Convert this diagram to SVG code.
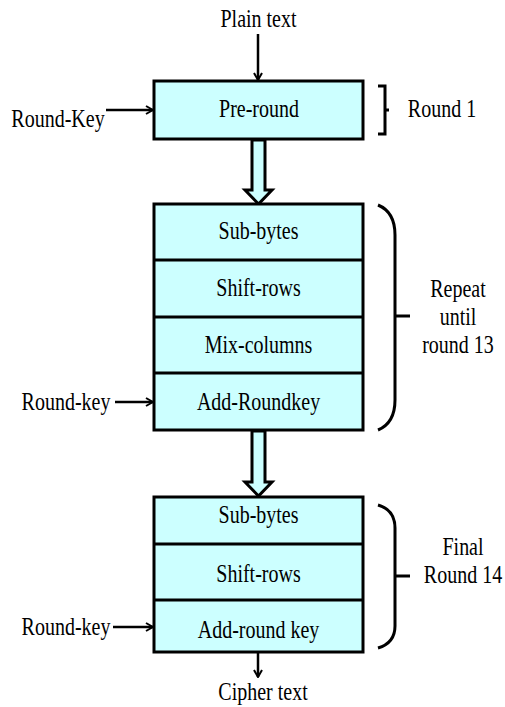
<svg xmlns="http://www.w3.org/2000/svg" width="505" height="707" viewBox="0 0 505 707">
<defs>
<marker id="ah" viewBox="0 0 10 10" refX="9" refY="5" markerWidth="10" markerHeight="10" markerUnits="userSpaceOnUse" orient="auto">
<path d="M2,1 L9,5 L2,9" fill="none" stroke="#000" stroke-width="2"/>
</marker>
<style>
.t{font-size:25px;fill:#000;text-anchor:middle}
.box{fill:#ccffff;stroke:#000;stroke-width:3}
.div{stroke:#000;stroke-width:3}
.ln{stroke:#000;stroke-width:2.5;fill:none}
.br{stroke:#000;stroke-width:3;fill:none}
.big{fill:#ccffff;stroke:#000;stroke-width:3;stroke-linejoin:miter}
</style>
</defs>
<g id="connectors">
<line class="ln" x1="258" y1="34" x2="258" y2="80" marker-end="url(#ah)"/>
<line class="ln" x1="106" y1="110" x2="153" y2="110" marker-end="url(#ah)"/>
<line class="ln" x1="115" y1="402" x2="153" y2="402" marker-end="url(#ah)"/>
<line class="ln" x1="113" y1="627" x2="153" y2="627" marker-end="url(#ah)"/>
<line class="ln" x1="258" y1="652" x2="258" y2="677" marker-end="url(#ah)"/>
<path class="big" d="M252,140 L265,140 L265,190 L272,190 L258.5,204 L245,190 L252,190 Z"/>
<path class="big" d="M252,431 L265,431 L265,482 L272,482 L258.5,496 L245,482 L252,482 Z"/>
</g>
<g id="pre-round" font-family="Liberation Serif, serif">
<rect class="box" x="154" y="81" width="209" height="58"/>
<text class="t" transform="translate(259,117) scale(0.8,1)">Pre-round</text>
</g>
<g id="main-round" font-family="Liberation Serif, serif">
<rect class="box" x="154" y="204" width="209" height="226"/>
<line class="div" x1="154" y1="260" x2="363" y2="260"/>
<line class="div" x1="154" y1="317" x2="363" y2="317"/>
<line class="div" x1="154" y1="373" x2="363" y2="373"/>
<text class="t" transform="translate(258.5,239) scale(0.8,1)">Sub-bytes</text>
<text class="t" transform="translate(258.5,296) scale(0.8,1)">Shift-rows</text>
<text class="t" transform="translate(258.5,353) scale(0.8,1)">Mix-columns</text>
<text class="t" transform="translate(258.5,410) scale(0.8,1)">Add-Roundkey</text>
</g>
<g id="final-round" font-family="Liberation Serif, serif">
<rect class="box" x="154" y="497" width="209" height="155"/>
<line class="div" x1="154" y1="544" x2="363" y2="544"/>
<line class="div" x1="154" y1="600" x2="363" y2="600"/>
<text class="t" transform="translate(258.5,523) scale(0.8,1)">Sub-bytes</text>
<text class="t" transform="translate(258.5,582) scale(0.8,1)">Shift-rows</text>
<text class="t" transform="translate(258.5,638) scale(0.8,1)">Add-round key</text>
</g>
<g id="labels" font-family="Liberation Serif, serif">
<text class="t" transform="translate(258.5,27) scale(0.8,1)">Plain text</text>
<text class="t" transform="translate(58,127) scale(0.8,1)">Round-Key</text>
<text class="t" transform="translate(66,410) scale(0.8,1)">Round-key</text>
<text class="t" transform="translate(66,635) scale(0.8,1)">Round-key</text>
<text class="t" transform="translate(263,700) scale(0.8,1)">Cipher text</text>
</g>
<g id="brackets" font-family="Liberation Serif, serif">
<path class="br" d="M378,86 L385,86 L385,134 L378,134 M385,110 L389,110"/>
<text class="t" transform="translate(442,117) scale(0.8,1)">Round 1</text>
<path class="br" d="M378,205 Q395,212 395,235 L395,400 Q395,423 378,430 M395,316 L410,316"/>
<text class="t" transform="translate(458,297) scale(0.8,1)">Repeat</text>
<text class="t" transform="translate(458,325) scale(0.8,1)">until</text>
<text class="t" transform="translate(458,353) scale(0.8,1)">round 13</text>
<path class="br" d="M378,505 Q395,510 395,528 L395,626 Q395,643 378,648 M395,576 L410,576"/>
<text class="t" transform="translate(463,555) scale(0.8,1)">Final</text>
<text class="t" transform="translate(463,583) scale(0.8,1)">Round 14</text>
</g>
</svg>
